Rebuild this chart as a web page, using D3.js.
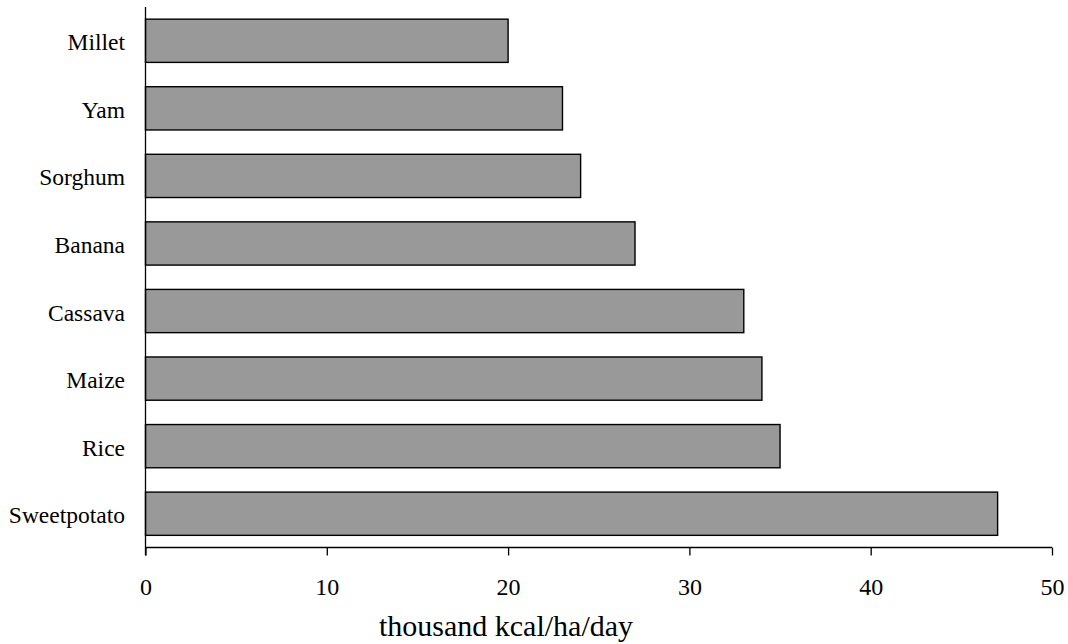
<!DOCTYPE html>
<html><head><meta charset="utf-8">
<script src="https://cdn.jsdelivr.net/npm/d3@7"></script>
<style>body{margin:0;background:#fff}svg{display:block}text{font-family:"Liberation Serif","Times New Roman",serif;fill:#000}</style>
</head><body><svg id="c" width="1068" height="644"></svg>
<script>
const categories = ["Millet","Yam","Sorghum","Banana","Cassava","Maize","Rice","Sweetpotato"];
const values = [20,23,24,27,33,34,35,47];
const xTicks = [0,10,20,30,40,50];
const xTitle = "thousand kcal/ha/day";

const svg = d3.select("#c");
const x = d3.scaleLinear().domain([0,50]).range([145.5,1052]);
const y = d3.scaleBand().domain(categories).range([7,547.5]).paddingInner(0.36).paddingOuter(0.18);

svg.selectAll("rect.bar").data(categories).join("rect")
  .attr("class","bar")
  .attr("x", x(0))
  .attr("y", d=>y(d))
  .attr("width", (d,i)=>x(values[i])-x(0))
  .attr("height", y.bandwidth())
  .attr("fill","#999999").attr("stroke","#000").attr("stroke-width",1.4);

// y axis line
svg.append("line").attr("x1",x(0)).attr("x2",x(0)).attr("y1",7).attr("y2",555.5)
  .attr("stroke","#000").attr("stroke-width",1.3);

// y labels
svg.selectAll("text.cat").data(categories).join("text")
  .attr("class","cat")
  .attr("x",125).attr("y",d=>y(d)+y.bandwidth()/2+9.5)
  .attr("text-anchor","end")
  .attr("font-size",23.5).text(d=>d);

// x axis
const xAxis = d3.axisBottom(x).tickValues(xTicks).tickSize(8).tickPadding(0).tickFormat(d3.format("d"));
const gx = svg.append("g").attr("transform","translate(0,547.5)").call(xAxis);
gx.select(".domain").attr("stroke","#000").attr("stroke-width",1.3).attr("d",`M${x(0)},0H${x(50)}`);
gx.selectAll(".tick line").attr("stroke","#000").attr("stroke-width",1.3);
gx.selectAll(".tick text").attr("font-size",24).attr("dy",null).attr("y",47)
  .attr("font-family",'"Liberation Serif","Times New Roman",serif').attr("fill","#000");

svg.append("text").attr("x",506).attr("y",636).attr("text-anchor","middle")
  .attr("font-size",30).text(xTitle);
</script></body></html>
